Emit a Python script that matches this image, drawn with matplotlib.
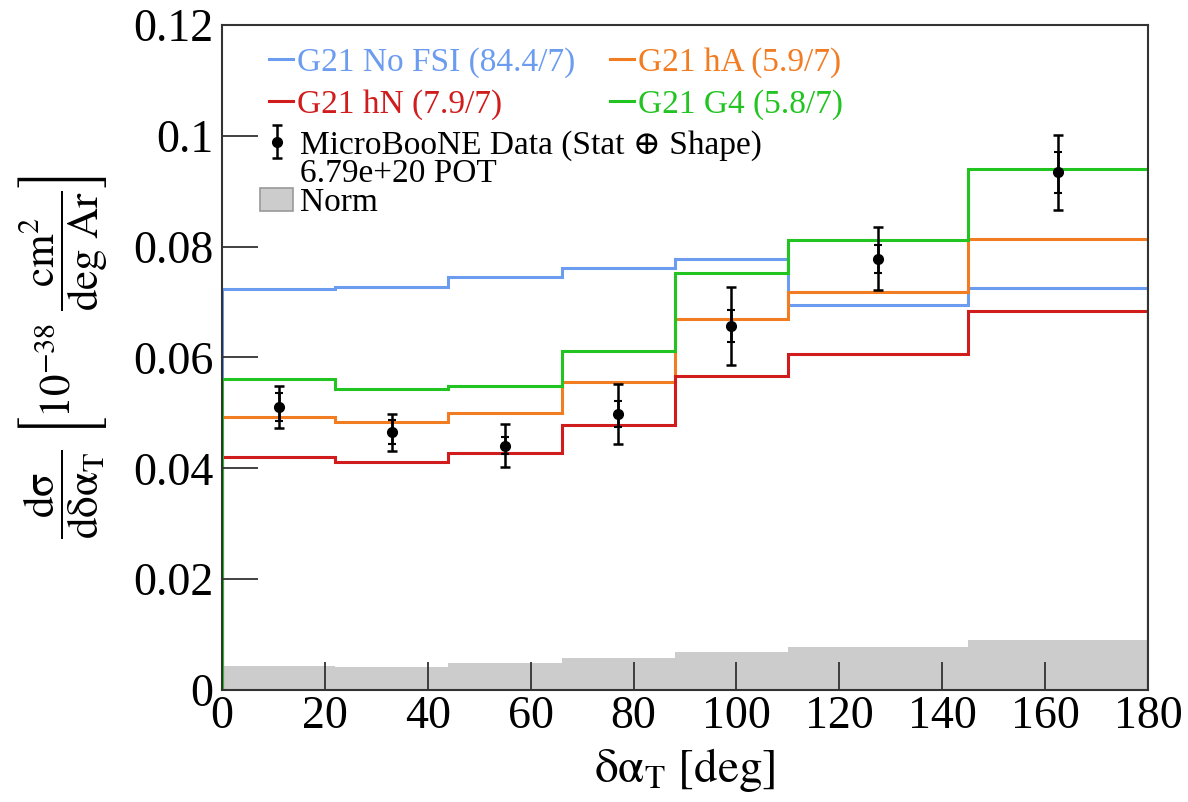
import matplotlib
matplotlib.use('Agg')
import matplotlib.pyplot as plt
from matplotlib.lines import Line2D
from matplotlib.patches import Patch
import numpy as np

plt.rcParams['font.family'] = ['Liberation Serif', 'DejaVu Serif']
plt.rcParams['mathtext.fontset'] = 'stix'

# bin edges in delta alpha_T [deg]
edges = np.array([0, 22, 44, 66, 88, 110, 145, 180])
centers = np.array([11, 33, 55, 77, 99, 127.5, 162.5])

# GENIE v3 predictions, 10^-38 cm2 / deg Ar
nofsi = [0.0724, 0.0727, 0.0746, 0.0762, 0.0778, 0.0695, 0.0726]
hA = [0.0493, 0.0483, 0.0499, 0.0556, 0.0669, 0.0719, 0.0814]
hN = [0.0421, 0.0412, 0.0428, 0.0478, 0.0566, 0.0607, 0.0683]
g4 = [0.0562, 0.0544, 0.0548, 0.0612, 0.0753, 0.0812, 0.0940]

# data with total (stat+shape) and stat-only errors
data = [0.0511, 0.0465, 0.0441, 0.0498, 0.0657, 0.0778, 0.0934]
err_tot = [0.0038, 0.0033, 0.0039, 0.0054, 0.0071, 0.0057, 0.0068]
err_stat = [0.0025, 0.0022, 0.0015, 0.0023, 0.0029, 0.0025, 0.0037]

# normalisation uncertainty band
norm = [0.0044, 0.0042, 0.0048, 0.0057, 0.0069, 0.0078, 0.0090]

labels = ['G21 No FSI (84.4/7)', 'G21 hA (5.9/7)', 'G21 hN (7.9/7)', 'G21 G4 (5.8/7)']
colors = ['#6b9cf0', '#f27c22', '#d01c1c', '#22c422']

fig = plt.figure(figsize=(11.88, 8.02), dpi=100)
ax = fig.add_axes([0.1869, 0.1397, 0.7794, 0.8291])

ax.stairs(norm, edges, fill=True, color='#cccccc', lw=0)
for vals, c in zip([nofsi, hA, hN, g4], colors):
    ax.stairs(vals, edges, color=c, lw=2.2)

ax.errorbar(centers, data, yerr=err_stat, fmt='none', ecolor='black', elinewidth=1.8, capsize=3, capthick=1.5)
hdata = ax.errorbar(centers, data, yerr=err_tot, fmt='o', color='black', ms=7, elinewidth=1.8, capsize=3.5, capthick=1.8)

ax.set_xlim(0, 180)
ax.set_ylim(0, 0.12)
ax.set_xticks(np.arange(0, 181, 20))
ax.set_yticks([0, 0.02, 0.04, 0.06, 0.08, 0.1, 0.12])
ax.set_yticklabels(['0', '0.02', '0.04', '0.06', '0.08', '0.1', '0.12'])
ax.tick_params(direction='in', length=20, width=1.3, labelsize=33, pad=4, color='#333333')
ax.tick_params(axis='y', length=26, pad=6)
for s in ax.spines.values():
    s.set_linewidth(1.5)
    s.set_color('#333333')

ax.set_xlabel(r'$\mathrm{\delta\alpha}_{\mathrm{T}}\ \mathrm{[deg]}$', fontsize=34, labelpad=6)
ax.set_ylabel(r'$\dfrac{\mathrm{d\sigma}}{\mathrm{d\delta\alpha_{T}}}\ \left[10^{-38}\ \dfrac{\mathrm{cm}^{2}}{\mathrm{deg\ Ar}}\right]$',
              fontsize=31, labelpad=17)

# legend: models in two columns
handles = [Line2D([], [], color=c, lw=2.2) for c in colors]
order = [0, 2, 1, 3]
leg1 = ax.legend([handles[i] for i in order], [labels[i] for i in order], ncol=2,
                 loc='upper left', bbox_to_anchor=(0.0508, 0.967), frameon=False,
                 fontsize=24, handlelength=0.72, handletextpad=0.12, columnspacing=1.05,
                 labelspacing=0.33, borderaxespad=0, borderpad=0)
for t, i in zip(leg1.get_texts(), order):
    t.set_color(colors[i])
ax.add_artist(leg1)

hblank = Line2D([], [], lw=0)
hnorm = Patch(facecolor='#cccccc', edgecolor='#999999', lw=1.2)
leg2 = ax.legend([hdata, hblank, hnorm],
                 ['MicroBooNE Data (Stat \u2295 Shape)', '6.79e+20 POT', 'Norm'],
                 loc='upper left', bbox_to_anchor=(0.041, 0.8425), frameon=False,
                 fontsize=24, handlelength=1.0, handletextpad=0.2, labelspacing=-0.05,
                 borderaxespad=0, borderpad=0)

fig.savefig('out.png', dpi=100)
